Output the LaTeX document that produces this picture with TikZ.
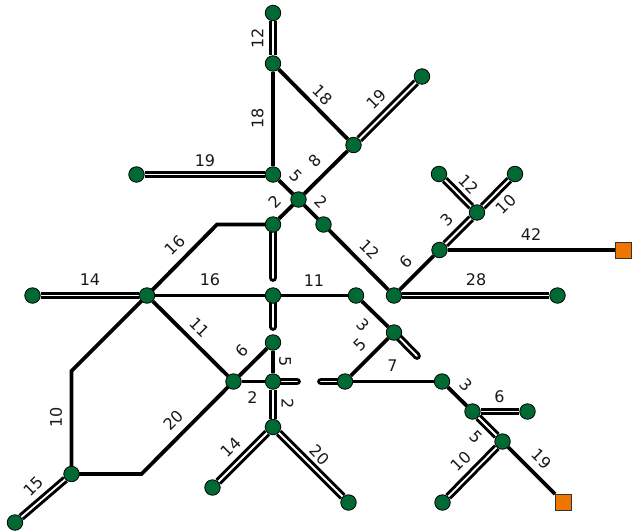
\documentclass[tikz,border=0pt]{standalone}
\usepackage{fontspec}
\setmainfont{DejaVu Sans}
\usetikzlibrary{backgrounds}
\definecolor{vgreen}{RGB}{0,105,52}
\definecolor{vorange}{RGB}{238,118,0}
\tikzset{
  vtx/.style={circle, draw=black, line width=0.8pt, fill=vgreen, minimum size=15.5pt, inner sep=0pt},
  sq/.style={rectangle, draw=black!80, line width=0.8pt, fill=vorange, minimum size=16pt, inner sep=0pt},
  sgl/.style={draw=black, line width=3.8pt},
  dbl/.style={draw=black, double=white, double distance=1.8pt, line width=3pt},
  stub/.style={dbl, line cap=round},
  lbl/.style={font=\fontsize{16}{18}\selectfont, inner sep=0pt, text=black!90}
}
\begin{document}
\begin{tikzpicture}[x=1pt,y=-1pt]
\useasboundingbox (0,0) rectangle (632,531);
% vertices
\node[vtx] (A) at (273,13) {};
\node[vtx] (B) at (273,63.5) {};
\node[vtx] (C) at (353.5,145) {};
\node[vtx] (D) at (422,76.5) {};
\node[vtx] (E) at (273,174.5) {};
\node[vtx] (F) at (136.5,174.5) {};
\node[vtx] (G) at (298.5,199.5) {};
\node[vtx] (H) at (273,224.5) {};
\node[vtx] (I) at (323.5,224.5) {};
\node[vtx] (K) at (147,295.5) {};
\node[vtx] (L) at (32.5,295.5) {};
\node[vtx] (M) at (273,295.5) {};
\node[vtx] (N) at (356,295.5) {};
\node[vtx] (O) at (394,332.5) {};
\node[vtx] (P) at (394,295.5) {};
\node[vtx] (Q) at (439.5,250) {};
\node[vtx] (R) at (477,212.5) {};
\node[vtx] (S) at (439,174) {};
\node[vtx] (T) at (515,174) {};
\node[sq]  (U) at (623.5,250) {};
\node[vtx] (V) at (557.5,295.5) {};
\node[vtx] (W) at (273,342.5) {};
\node[vtx] (X) at (233.5,381.5) {};
\node[vtx] (Y) at (273,381.5) {};
\node[vtx] (Z) at (345,381.5) {};
\node[vtx] (AA) at (442,381.5) {};
\node[vtx] (AB) at (472.5,411.5) {};
\node[vtx] (AC) at (527.5,411.5) {};
\node[vtx] (AD) at (502.5,441.5) {};
\node[vtx] (AE) at (442.5,502.5) {};
\node[sq]  (AF) at (563.5,502.5) {};
\node[vtx] (AG) at (273,427) {};
\node[vtx] (AH) at (212.5,487.5) {};
\node[vtx] (AI) at (348.5,502.5) {};
\node[vtx] (AJ) at (71.5,474) {};
\node[vtx] (AK) at (15,522.5) {};
% bend points and stub ends
\coordinate (J) at (217,224.5);
\coordinate (K1) at (71.5,371);
\coordinate (X1) at (141.5,474);
\coordinate (sH) at (273,278);
\coordinate (sM) at (273,327);
\coordinate (sY) at (297,381.5);
\coordinate (sZ) at (321,381.5);
\coordinate (sO) at (417,356);
\begin{scope}[on background layer]
\draw[dbl] (A) -- (B);
\draw[sgl] (B) -- (E);
\draw[sgl] (B) -- (C);
\draw[dbl] (C) -- (D);
\draw[dbl] (F) -- (E);
\draw[sgl] (E) -- (G);
\draw[sgl] (G) -- (C);
\draw[sgl] (G) -- (H);
\draw[sgl] (G) -- (I);
\draw[sgl] (I) -- (P);
\draw[sgl] (H.center) -- (J) -- (K.center);
\draw[dbl] (L) -- (K);
\draw[sgl] (K) -- (M);
\draw[sgl] (M) -- (N);
\draw[sgl] (N) -- (O);
\draw[sgl] (O) -- (Z);
\draw[sgl] (Z) -- (AA);
\draw[sgl] (K) -- (X);
\draw[sgl] (X) -- (W);
\draw[sgl] (W) -- (Y);
\draw[sgl] (X) -- (Y);
\draw[dbl] (Y) -- (AG);
\draw[sgl] (X.center) -- (X1) -- (AJ.center);
\draw[sgl] (K.center) -- (K1) -- (AJ.center);
\draw[dbl] (AJ) -- (AK);
\draw[dbl] (AG) -- (AH);
\draw[dbl] (AG) -- (AI);
\draw[sgl] (P) -- (Q);
\draw[dbl] (Q) -- (R);
\draw[dbl] (R) -- (S);
\draw[dbl] (R) -- (T);
\draw[sgl] (Q) -- (U);
\draw[dbl] (P) -- (V);
\draw[sgl] (AA) -- (AB);
\draw[dbl] (AB) -- (AC);
\draw[dbl] (AB) -- (AD);
\draw[dbl] (AD) -- (AE);
\draw[sgl] (AD) -- (AF);
% stubs
\draw[stub] (H.center) -- (sH);
\draw[stub] (M.center) -- (sM);
\draw[stub] (Y.center) -- (sY);
\draw[stub] (sZ) -- (Z.center);
\draw[stub] (O.center) -- (sO);
\end{scope}
% labels
\node[lbl, rotate=90] (l1) at (257.5,38.5) {12};
\node[lbl, rotate=90] (l2) at (257.5,118.5) {18};
\node[lbl, rotate=-45] (l3) at (323,95) {18};
\node[lbl, rotate=45] (l4) at (376.5,99.5) {19};
\node[lbl] (l5) at (205,160.5) {19};
\node[lbl, rotate=-45] (l6) at (296.5,176.5) {5};
\node[lbl, rotate=45] (l7) at (315,161) {8};
\node[lbl, rotate=45] (l8) at (275,201.5) {2};
\node[lbl, rotate=-45] (l9) at (321,201.5) {2};
\node[lbl, rotate=-45] (l10) at (370,249.5) {12};
\node[lbl, rotate=45] (l11) at (175,245) {16};
\node[lbl] (l12) at (90,280) {14};
\node[lbl] (l13) at (210,280) {16};
\node[lbl] (l14) at (314,280.5) {11};
\node[lbl, rotate=-45] (l15) at (200,327.5) {11};
\node[lbl, rotate=45] (l16) at (241.5,350.5) {6};
\node[lbl, rotate=-90] (l17) at (285,361.5) {5};
\node[lbl] (l18) at (252.5,397.5) {2};
\node[lbl, rotate=-90] (l19) at (287.5,404) {2};
\node[lbl, rotate=-45] (l20) at (363.5,325) {3};
\node[lbl, rotate=45] (l21) at (360,345) {5};
\node[lbl] (l22) at (392.5,366) {7};
\node[lbl] (l23) at (476,280) {28};
\node[lbl] (l24) at (531,235) {42};
\node[lbl, rotate=45] (l25) at (406,261.5) {6};
\node[lbl, rotate=45] (l26) at (446.5,220) {3};
\node[lbl, rotate=-45] (l27) at (468.5,184) {12};
\node[lbl, rotate=45] (l28) at (506,204.5) {10};
\node[lbl, rotate=90] (l29) at (56,417.5) {10};
\node[lbl, rotate=45] (l30) at (173.5,420.5) {20};
\node[lbl, rotate=45] (l31) at (33.5,486) {15};
\node[lbl, rotate=45] (l32) at (231,447.5) {14};
\node[lbl, rotate=-45] (l33) at (320,455) {20};
\node[lbl, rotate=-45] (l34) at (466.5,385) {3};
\node[lbl] (l35) at (499.5,396.5) {6};
\node[lbl, rotate=-45] (l36) at (476,437.5) {5};
\node[lbl, rotate=45] (l37) at (461,461.5) {10};
\node[lbl, rotate=-45] (l38) at (541.5,459) {19};
\end{tikzpicture}
\end{document}
